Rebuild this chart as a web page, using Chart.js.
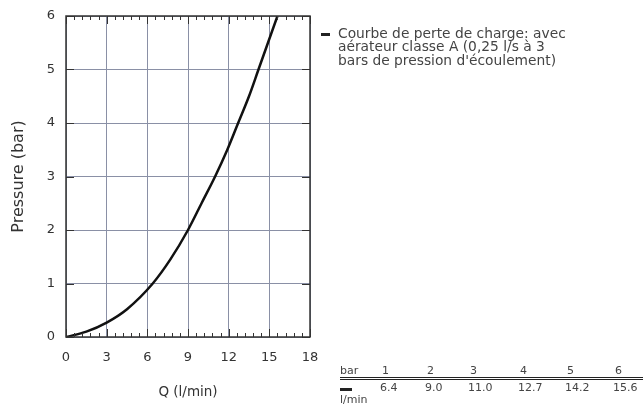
<!DOCTYPE html>
<html lang="fr">
<head>
<meta charset="UTF-8">
<title>Courbe de perte de charge</title>
<script src="https://cdn.jsdelivr.net/npm/chart.js"></script>
<style>
  body { margin: 0; background: #fff; font-family: "DejaVu Sans", sans-serif; color: #444; }
  #wrap { position: relative; width: 643px; height: 405px; }
  #chart { position: absolute; left: 0; top: 0; }
  #legend { position: absolute; left: 321px; top: 27px; font-size: 13.8px; line-height: 13.3px; color: #444; }
  #legend .dash { position: absolute; left: 0; top: 6px; width: 9px; height: 3px; background: #222; }
  #legend .txt { margin-left: 17px; }
  #table { position: absolute; left: 340px; top: 362px; width: 303px; font-size: 11px; color: #444; }
  #table .cell { position: absolute; white-space: nowrap; }
</style>
</head>
<body>
<div id="wrap">
  <canvas id="chart" width="643" height="405"></canvas>
  <div id="legend"><span class="dash"></span><div class="txt">Courbe de perte de charge: avec<br>aérateur classe A (0,25 l/s à 3<br>bars de pression d'écoulement)</div></div>
  <div id="table"></div>
</div>
<script>
// curve (l/min, bar)
var flow = [0, 1.5, 3, 4.5, 6.4, 7.7, 9.0, 10.0, 11.0, 11.9, 12.7, 13.5, 14.2, 14.9, 15.6];
var pressure = [0, 0.1, 0.27, 0.52, 1.0, 1.45, 2.0, 2.5, 3.0, 3.5, 4.0, 4.5, 5.0, 5.5, 6.0];

// table below the legend
var tablePressure = ['1', '2', '3', '4', '5', '6'];
var tableFlow = ['6.4', '9.0', '11.0', '12.7', '14.2', '15.6'];

var xTicks = [0, 3, 6, 9, 12, 15, 18];
var yTicks = [0, 1, 2, 3, 4, 5, 6];

var points = flow.map(function (q, i) { return { x: q, y: pressure[i] }; });

// frame + inner ticks
var framePlugin = {
  id: 'frame',
  afterDraw: function (chart) {
    var ctx = chart.ctx, a = chart.chartArea;
    var xs = chart.scales.x, ys = chart.scales.y;
    ctx.save();
    ctx.strokeStyle = '#333';
    ctx.lineWidth = 1.5;
    ctx.strokeRect(a.left, a.top, a.right - a.left, a.bottom - a.top);
    ctx.lineWidth = 1;
    ctx.beginPath();
    for (var v = 0; v <= 18.001; v += 0.6) {
      var major = Math.abs(v / 3 - Math.round(v / 3)) < 0.01;
      var len = major ? 8 : 4;
      var px = Math.round(xs.getPixelForValue(v)) + 0.5;
      ctx.moveTo(px, a.bottom); ctx.lineTo(px, a.bottom - len);
      ctx.moveTo(px, a.top); ctx.lineTo(px, a.top + len);
    }
    yTicks.forEach(function (t) {
      var py = Math.round(ys.getPixelForValue(t)) + 0.5;
      ctx.moveTo(a.left, py); ctx.lineTo(a.left + 8, py);
      ctx.moveTo(a.right, py); ctx.lineTo(a.right - 8, py);
    });
    ctx.stroke();
    ctx.restore();
  }
};

new Chart(document.getElementById('chart'), {
  type: 'scatter',
  data: {
    datasets: [{
      label: 'Courbe de perte de charge',
      data: points,
      showLine: true,
      borderColor: '#111',
      borderWidth: 2.5,
      pointRadius: 0,
      cubicInterpolationMode: 'monotone',
      fill: false
    }]
  },
  options: {
    responsive: false,
    animation: false,
    layout: { padding: { top: 16, right: 333, left: 0, bottom: 0 } },
    plugins: { legend: { display: false }, tooltip: { enabled: false } },
    scales: {
      x: {
        type: 'linear', min: 0, max: 18,
        afterBuildTicks: function (s) { s.ticks = xTicks.map(function (v) { return { value: v }; }); },
        afterFit: function (s) { s.height = 68; s.paddingLeft = 0; s.paddingRight = 0; },
        grid: { color: '#8a90a6', lineWidth: 1, drawTicks: false },
        border: { display: false },
        ticks: { color: '#333', font: { family: 'DejaVu Sans', size: 13 }, padding: 13, maxRotation: 0 },
        title: { display: true, text: 'Q (l/min)', color: '#333', font: { family: 'DejaVu Sans', size: 13.5 }, padding: { top: 8 } }
      },
      y: {
        type: 'linear', min: 0, max: 6,
        afterBuildTicks: function (s) { s.ticks = yTicks.map(function (v) { return { value: v }; }); },
        afterFit: function (s) { s.width = 66; s.paddingTop = 0; s.paddingBottom = 0; },
        grid: { color: '#8a90a6', lineWidth: 1, drawTicks: false },
        border: { display: false },
        ticks: { color: '#333', font: { family: 'DejaVu Sans', size: 13 }, padding: 11 },
        title: { display: true, text: 'Pressure (bar)', color: '#333', font: { family: 'DejaVu Sans', size: 16 }, padding: { top: 9, bottom: 0 } }
      }
    }
  },
  plugins: [framePlugin]
});

// build the small table
var tbl = document.getElementById('table');
var colX = [42, 87, 130, 180, 227, 275];
function cell(text, x, y) {
  var d = document.createElement('div');
  d.className = 'cell';
  d.style.left = x + 'px'; d.style.top = y + 'px';
  d.textContent = text;
  tbl.appendChild(d);
}
cell('bar', 0, 2);
tablePressure.forEach(function (p, i) { cell(p, colX[i], 2); });
var line = document.createElement('div');
line.style.cssText = 'position:absolute;left:0;top:15px;width:303px;height:1px;border-top:1.5px solid #222;border-bottom:1.5px solid #222;';
tbl.appendChild(line);
var dash = document.createElement('div');
dash.style.cssText = 'position:absolute;left:0;top:26px;width:12px;height:3px;background:#222;';
tbl.appendChild(dash);
tableFlow.forEach(function (f, i) { cell(f, colX[i] - 2, 19); });
cell('l/min', 0, 31);
</script>
</body>
</html>
